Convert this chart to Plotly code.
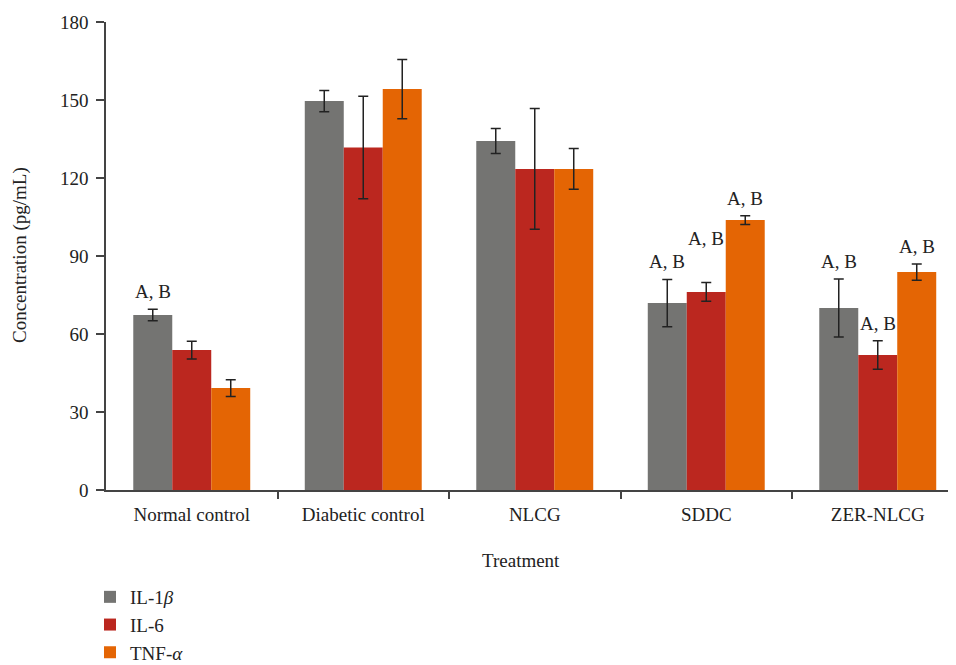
import plotly.graph_objects as go

categories = ["Normal control", "Diabetic control", "NLCG", "SDDC", "ZER-NLCG"]
series_names = ["IL-1<i>β</i>", "IL-6", "TNF-<i>α</i>"]
il1b = [67.3, 149.6, 134.2, 71.9, 70.0]
il1b_err = [2.2, 4.1, 4.8, 9.1, 11.2]
il6 = [53.8, 131.7, 123.5, 76.2, 51.9]
il6_err = [3.4, 19.7, 23.2, 3.6, 5.5]
tnfa = [39.2, 154.2, 123.5, 103.8, 83.8]
tnfa_err = [3.2, 11.4, 7.8, 1.7, 3.1]
y_ticks = [0, 30, 60, 90, 120, 150, 180]
# significance labels: (category index, series index)
sig_labels = [(0, 0), (3, 0), (3, 1), (3, 2), (4, 0), (4, 1), (4, 2)]
sig_text = "A, B"

colors = ["#747472", "#BB271F", "#E46504"]
values = [il1b, il6, tnfa]
errors = [il1b_err, il6_err, tnfa_err]
FONT = "Liberation Serif"
FS = 19
bargap = 0.318
PW, PH = 850, 468  # plot area size in px

fig = go.Figure()
for name, v, e, c in zip(series_names, values, errors, colors):
    fig.add_trace(go.Bar(
        x=list(range(len(categories))), y=v, name=name,
        marker=dict(color=c, line=dict(width=0)),
        error_y=dict(type="data", array=e, visible=True, color="#222222",
                     thickness=1.5, width=5),
    ))

w = (1 - bargap) / 3
anns = []
for (ci, si) in sig_labels:
    top = values[si][ci] + errors[si][ci]
    extra = 27 if (ci, si) == (3, 1) else 0
    anns.append(dict(x=ci + (si - 1) * w, y=top, xref="x", yref="y",
                     text=sig_text, showarrow=False, yanchor="bottom",
                     yshift=5 + extra, font=dict(family=FONT, size=FS, color="#222222")))
anns.append(dict(x=(521 - 106) / PW, y=(490 - 560) / PH, xref="paper", yref="paper",
                 text="Treatment", showarrow=False, xanchor="center", yanchor="middle",
                 font=dict(family=FONT, size=FS, color="#222222")))
anns.append(dict(x=(20 - 106) / PW, y=(490 - 255) / PH, xref="paper", yref="paper",
                 text="Concentration (pg/mL)", showarrow=False, textangle=-90,
                 xanchor="center", yanchor="middle",
                 font=dict(family=FONT, size=FS, color="#222222")))

fig.update_layout(
    width=948, height=657,
    margin=dict(l=98, r=0, t=14, b=175, autoexpand=False),
    paper_bgcolor="white", plot_bgcolor="white",
    barmode="group", bargap=bargap, bargroupgap=0,
    font=dict(family=FONT, size=FS, color="#222222"),
    showlegend=True,
    legend=dict(x=(90 - 106) / PW, y=(490 - 578) / PH, xanchor="left", yanchor="top",
                font=dict(family=FONT, size=FS, color="#222222"),
                tracegroupgap=0, itemsizing="constant", bgcolor="rgba(0,0,0,0)"),
    annotations=anns,
    xaxis=dict(tickmode="array", tickvals=list(range(len(categories))), ticktext=categories,
               range=[-0.5, -0.5 + PW / 171.5], showline=True, linecolor="#444444",
               linewidth=1.5, ticks="", showgrid=False, zeroline=False,
               ticklabelstandoff=6,
               tickfont=dict(family=FONT, size=FS, color="#222222")),
    yaxis=dict(range=[0, 180], tickvals=y_ticks, showline=True, linecolor="#444444",
               linewidth=1.5, ticks="outside", ticklen=8, tickcolor="#444444", tickwidth=1.5,
               showgrid=False, zeroline=False, ticklabelstandoff=4,
               tickfont=dict(family=FONT, size=FS, color="#222222")),
)
fig.update_xaxes(minor=dict(tickmode="array", tickvals=[0.5, 1.5, 2.5, 3.5],
                            ticks="outside", ticklen=7, tickcolor="#444444", tickwidth=1.5))

fig.write_html("out.html")
